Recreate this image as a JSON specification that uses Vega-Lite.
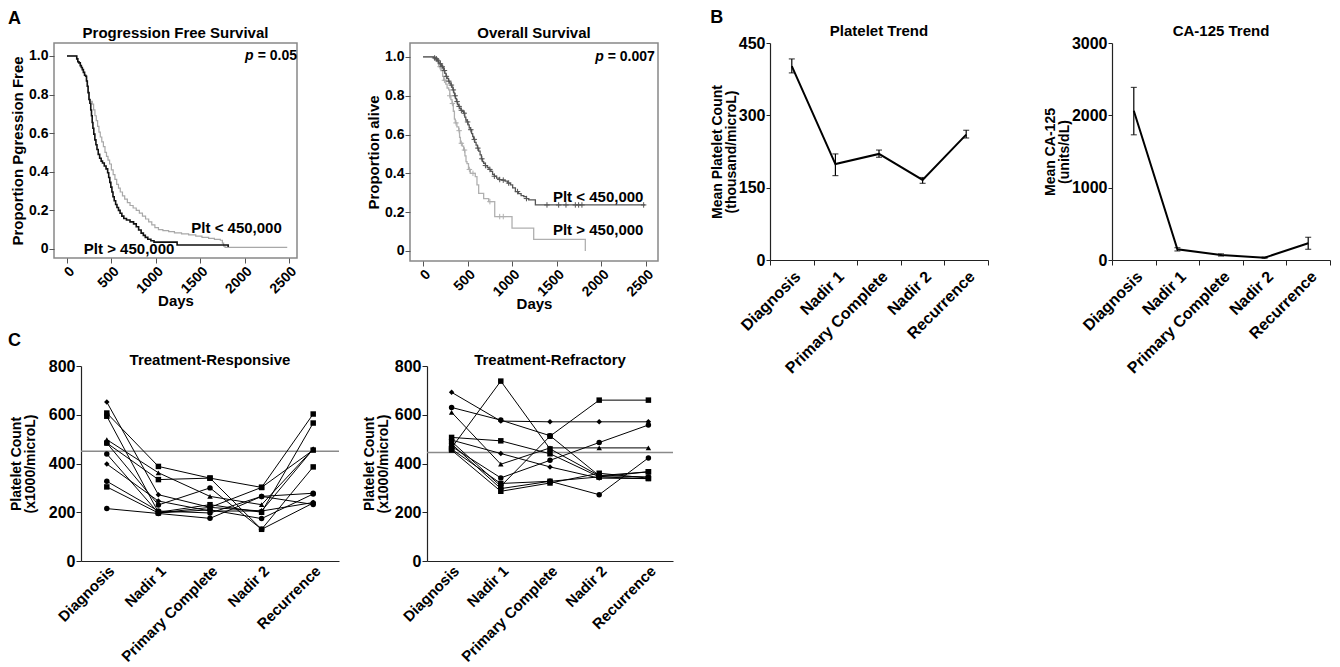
{
 "$schema": "https://vega.github.io/schema/vega-lite/v6.json",
 "padding": {"left": 8, "top": 9, "right": 2, "bottom": 1},
 "background": "white",
 "config": {
  "font": "Liberation Sans",
  "view": {"stroke": null},
  "axis": {"labelFont": "Liberation Sans", "labelFontWeight": "bold", "labelFontSize": 16, "labelColor": "#000", "titleFont": "Liberation Sans", "titleFontWeight": "bold", "titleFontSize": 14, "titleColor": "#000", "domainColor": "#222", "tickColor": "#222", "grid": false, "domainWidth": 1.2, "tickWidth": 1, "titleLineHeight": 14},
  "title": {"font": "Liberation Sans", "fontSize": 15, "fontWeight": "bold", "color": "#000", "offset": 2},
  "text": {"font": "Liberation Sans"}
 },
 "datasets": {
  "pfs_hi": [{"day":0,"surv":1},{"day":100,"surv":1},{"day":110,"surv":0.985},{"day":122,"surv":0.97},{"day":135,"surv":0.964},{"day":150,"surv":0.95},{"day":162,"surv":0.94},{"day":173,"surv":0.929},{"day":185,"surv":0.915},{"day":198,"surv":0.9},{"day":210,"surv":0.895},{"day":220,"surv":0.87},{"day":229,"surv":0.843},{"day":238,"surv":0.81},{"day":248,"surv":0.774},{"day":258,"surv":0.755},{"day":268,"surv":0.72},{"day":276,"surv":0.69},{"day":284,"surv":0.655},{"day":292,"surv":0.625},{"day":302,"surv":0.595},{"day":314,"surv":0.565},{"day":326,"surv":0.54},{"day":338,"surv":0.515},{"day":352,"surv":0.49},{"day":368,"surv":0.47},{"day":385,"surv":0.455},{"day":400,"surv":0.445},{"day":420,"surv":0.43},{"day":440,"surv":0.415},{"day":458,"surv":0.395},{"day":470,"surv":0.37},{"day":482,"surv":0.345},{"day":494,"surv":0.32},{"day":506,"surv":0.295},{"day":518,"surv":0.27},{"day":532,"surv":0.25},{"day":548,"surv":0.23},{"day":563,"surv":0.215},{"day":580,"surv":0.2},{"day":598,"surv":0.185},{"day":618,"surv":0.17},{"day":640,"surv":0.158},{"day":670,"surv":0.15},{"day":710,"surv":0.14},{"day":750,"surv":0.13},{"day":780,"surv":0.115},{"day":807,"surv":0.098},{"day":835,"surv":0.082},{"day":860,"surv":0.07},{"day":882,"surv":0.06},{"day":910,"surv":0.05},{"day":945,"surv":0.042},{"day":980,"surv":0.035},{"day":1240,"surv":0.02},{"day":1815,"surv":0.01}],
  "pfs_lo": [{"day":0,"surv":1},{"day":100,"surv":1},{"day":110,"surv":0.985},{"day":122,"surv":0.97},{"day":135,"surv":0.964},{"day":150,"surv":0.95},{"day":162,"surv":0.94},{"day":173,"surv":0.929},{"day":185,"surv":0.915},{"day":198,"surv":0.9},{"day":210,"surv":0.895},{"day":220,"surv":0.87},{"day":229,"surv":0.843},{"day":238,"surv":0.81},{"day":248,"surv":0.774},{"day":262,"surv":0.765},{"day":285,"surv":0.75},{"day":300,"surv":0.72},{"day":315,"surv":0.69},{"day":330,"surv":0.665},{"day":345,"surv":0.635},{"day":360,"surv":0.605},{"day":375,"surv":0.58},{"day":392,"surv":0.555},{"day":410,"surv":0.53},{"day":428,"surv":0.5},{"day":445,"surv":0.48},{"day":462,"surv":0.46},{"day":480,"surv":0.44},{"day":500,"surv":0.41},{"day":520,"surv":0.385},{"day":540,"surv":0.36},{"day":560,"surv":0.335},{"day":580,"surv":0.315},{"day":600,"surv":0.295},{"day":625,"surv":0.275},{"day":650,"surv":0.258},{"day":680,"surv":0.24},{"day":710,"surv":0.225},{"day":745,"surv":0.212},{"day":780,"surv":0.2},{"day":815,"surv":0.185},{"day":850,"surv":0.17},{"day":885,"surv":0.155},{"day":920,"surv":0.14},{"day":955,"surv":0.125},{"day":990,"surv":0.11},{"day":1030,"surv":0.1},{"day":1080,"surv":0.095},{"day":1145,"surv":0.09},{"day":1210,"surv":0.083},{"day":1290,"surv":0.078},{"day":1370,"surv":0.073},{"day":1450,"surv":0.066},{"day":1520,"surv":0.06},{"day":1595,"surv":0.055},{"day":1660,"surv":0.05},{"day":1727,"surv":0.045},{"day":1750,"surv":0.03},{"day":1764,"surv":0.015},{"day":1780,"surv":0.008},{"day":2480,"surv":0.008}],
  "os_lo": [{"day":0,"surv":1},{"day":100,"surv":1},{"day":120,"surv":0.995},{"day":140,"surv":0.99},{"day":160,"surv":0.98},{"day":176,"surv":0.97},{"day":190,"surv":0.965},{"day":205,"surv":0.955},{"day":220,"surv":0.945},{"day":232,"surv":0.93},{"day":245,"surv":0.915},{"day":258,"surv":0.9},{"day":270,"surv":0.89},{"day":285,"surv":0.875},{"day":300,"surv":0.865},{"day":313,"surv":0.855},{"day":325,"surv":0.845},{"day":335,"surv":0.83},{"day":345,"surv":0.815},{"day":355,"surv":0.8},{"day":365,"surv":0.785},{"day":375,"surv":0.77},{"day":388,"surv":0.755},{"day":400,"surv":0.745},{"day":412,"surv":0.735},{"day":425,"surv":0.725},{"day":440,"surv":0.72},{"day":456,"surv":0.71},{"day":468,"surv":0.69},{"day":480,"surv":0.675},{"day":493,"surv":0.665},{"day":505,"surv":0.65},{"day":518,"surv":0.635},{"day":530,"surv":0.625},{"day":545,"surv":0.605},{"day":557,"surv":0.59},{"day":568,"surv":0.575},{"day":580,"surv":0.56},{"day":595,"surv":0.545},{"day":610,"surv":0.53},{"day":624,"surv":0.515},{"day":640,"surv":0.495},{"day":655,"surv":0.475},{"day":668,"surv":0.46},{"day":680,"surv":0.452},{"day":700,"surv":0.44},{"day":720,"surv":0.43},{"day":740,"surv":0.42},{"day":760,"surv":0.41},{"day":780,"surv":0.395},{"day":800,"surv":0.385},{"day":825,"surv":0.375},{"day":855,"surv":0.368},{"day":885,"surv":0.365},{"day":920,"surv":0.36},{"day":950,"surv":0.35},{"day":980,"surv":0.34},{"day":1005,"surv":0.325},{"day":1036,"surv":0.306},{"day":1070,"surv":0.295},{"day":1100,"surv":0.285},{"day":1130,"surv":0.28},{"day":1160,"surv":0.27},{"day":1185,"surv":0.263},{"day":1260,"surv":0.237},{"day":2490,"surv":0.237}],
  "os_hi": [{"day":0,"surv":1},{"day":120,"surv":1},{"day":150,"surv":0.985},{"day":176,"surv":0.95},{"day":200,"surv":0.93},{"day":220,"surv":0.9},{"day":232,"surv":0.88},{"day":255,"surv":0.86},{"day":270,"surv":0.84},{"day":288,"surv":0.83},{"day":300,"surv":0.8},{"day":312,"surv":0.78},{"day":325,"surv":0.76},{"day":340,"surv":0.72},{"day":352,"surv":0.68},{"day":362,"surv":0.66},{"day":380,"surv":0.64},{"day":400,"surv":0.62},{"day":410,"surv":0.585},{"day":419,"surv":0.555},{"day":440,"surv":0.54},{"day":456,"surv":0.52},{"day":470,"surv":0.49},{"day":482,"surv":0.46},{"day":493,"surv":0.45},{"day":510,"surv":0.42},{"day":530,"surv":0.4},{"day":586,"surv":0.383},{"day":605,"surv":0.34},{"day":624,"surv":0.297},{"day":680,"surv":0.27},{"day":736,"surv":0.254},{"day":804,"surv":0.177},{"day":998,"surv":0.117},{"day":1241,"surv":0.06},{"day":1820,"surv":0}],
  "os_cens_lo": [{"day":130,"surv":0.995},{"day":150,"surv":0.99},{"day":170,"surv":0.98},{"day":195,"surv":0.965},{"day":215,"surv":0.95},{"day":240,"surv":0.93},{"day":262,"surv":0.9},{"day":290,"surv":0.875},{"day":318,"surv":0.855},{"day":340,"surv":0.83},{"day":360,"surv":0.8},{"day":382,"surv":0.77},{"day":405,"surv":0.745},{"day":430,"surv":0.725},{"day":462,"surv":0.71},{"day":500,"surv":0.665},{"day":536,"surv":0.625},{"day":575,"surv":0.575},{"day":615,"surv":0.53},{"day":660,"surv":0.475},{"day":700,"surv":0.44},{"day":750,"surv":0.42},{"day":800,"surv":0.385},{"day":860,"surv":0.368},{"day":900,"surv":0.365},{"day":960,"surv":0.35},{"day":1060,"surv":0.306},{"day":1160,"surv":0.27},{"day":1390,"surv":0.237},{"day":1521,"surv":0.237},{"day":1603,"surv":0.237},{"day":1708,"surv":0.237},{"day":1745,"surv":0.237},{"day":1782,"surv":0.237},{"day":2474,"surv":0.237}],
  "os_cens_hi": [{"day":160,"surv":0.985},{"day":190,"surv":0.95},{"day":240,"surv":0.88},{"day":300,"surv":0.8},{"day":330,"surv":0.76},{"day":370,"surv":0.66},{"day":405,"surv":0.62},{"day":430,"surv":0.555},{"day":465,"surv":0.52},{"day":520,"surv":0.42},{"day":560,"surv":0.4},{"day":750,"surv":0.254},{"day":860,"surv":0.177},{"day":900,"surv":0.177}],
  "plt": [{"stage":"Diagnosis","mean":402,"lo":388,"hi":417},{"stage":"Nadir 1","mean":199,"lo":175,"hi":220},{"stage":"Primary Complete","mean":220,"lo":213,"hi":228},{"stage":"Nadir 2","mean":166,"lo":159,"hi":171},{"stage":"Recurrence","mean":260,"lo":253,"hi":269}],
  "ca": [{"stage":"Diagnosis","mean":2063,"lo":1731,"hi":2386},{"stage":"Nadir 1","mean":148,"lo":125,"hi":170},{"stage":"Primary Complete","mean":69,"lo":55,"hi":85},{"stage":"Nadir 2","mean":32,"lo":25,"hi":40},{"stage":"Recurrence","mean":231,"lo":148,"hi":314}],
  "resp": [
   {"pt":"P1","sym":"diamond","stage":"Diagnosis","count":652},{"pt":"P1","sym":"diamond","stage":"Nadir 1","count":272},{"pt":"P1","sym":"diamond","stage":"Primary Complete","count":220},{"pt":"P1","sym":"diamond","stage":"Nadir 2","count":205},{"pt":"P1","sym":"diamond","stage":"Recurrence","count":459},
   {"pt":"P2","sym":"square","stage":"Diagnosis","count":607},{"pt":"P2","sym":"square","stage":"Nadir 1","count":388},{"pt":"P2","sym":"square","stage":"Primary Complete","count":340},{"pt":"P2","sym":"square","stage":"Nadir 2","count":302},{"pt":"P2","sym":"square","stage":"Recurrence","count":603},
   {"pt":"P3","sym":"square","stage":"Diagnosis","count":594},{"pt":"P3","sym":"square","stage":"Nadir 1","count":200},{"pt":"P3","sym":"square","stage":"Primary Complete","count":231},{"pt":"P3","sym":"square","stage":"Nadir 2","count":200},{"pt":"P3","sym":"square","stage":"Recurrence","count":566},
   {"pt":"P4","sym":"triangle","stage":"Diagnosis","count":498},{"pt":"P4","sym":"triangle","stage":"Nadir 1","count":362},{"pt":"P4","sym":"triangle","stage":"Primary Complete","count":265},{"pt":"P4","sym":"triangle","stage":"Nadir 2","count":231},{"pt":"P4","sym":"triangle","stage":"Recurrence","count":459},
   {"pt":"P5","sym":"circle","stage":"Diagnosis","count":484},{"pt":"P5","sym":"circle","stage":"Nadir 1","count":230},{"pt":"P5","sym":"circle","stage":"Primary Complete","count":300},{"pt":"P5","sym":"circle","stage":"Nadir 2","count":130},{"pt":"P5","sym":"circle","stage":"Recurrence","count":238},
   {"pt":"P6","sym":"square","stage":"Diagnosis","count":484},{"pt":"P6","sym":"square","stage":"Nadir 1","count":334},{"pt":"P6","sym":"square","stage":"Primary Complete","count":340},{"pt":"P6","sym":"square","stage":"Nadir 2","count":130},{"pt":"P6","sym":"square","stage":"Recurrence","count":386},
   {"pt":"P7","sym":"dot","stage":"Diagnosis","count":439},{"pt":"P7","sym":"dot","stage":"Nadir 1","count":197},{"pt":"P7","sym":"dot","stage":"Primary Complete","count":210},{"pt":"P7","sym":"dot","stage":"Nadir 2","count":174},{"pt":"P7","sym":"dot","stage":"Recurrence","count":275},
   {"pt":"P8","sym":"diamond","stage":"Diagnosis","count":398},{"pt":"P8","sym":"diamond","stage":"Nadir 1","count":246},{"pt":"P8","sym":"diamond","stage":"Primary Complete","count":205},{"pt":"P8","sym":"diamond","stage":"Nadir 2","count":205},{"pt":"P8","sym":"diamond","stage":"Recurrence","count":240},
   {"pt":"P9","sym":"circle","stage":"Diagnosis","count":327},{"pt":"P9","sym":"circle","stage":"Nadir 1","count":205},{"pt":"P9","sym":"circle","stage":"Primary Complete","count":197},{"pt":"P9","sym":"circle","stage":"Nadir 2","count":265},{"pt":"P9","sym":"circle","stage":"Recurrence","count":232},
   {"pt":"P10","sym":"square","stage":"Diagnosis","count":304},{"pt":"P10","sym":"square","stage":"Nadir 1","count":197},{"pt":"P10","sym":"square","stage":"Primary Complete","count":220},{"pt":"P10","sym":"square","stage":"Nadir 2","count":302},{"pt":"P10","sym":"square","stage":"Recurrence","count":455},
   {"pt":"P11","sym":"dot","stage":"Diagnosis","count":215},{"pt":"P11","sym":"dot","stage":"Nadir 1","count":195},{"pt":"P11","sym":"dot","stage":"Primary Complete","count":175},{"pt":"P11","sym":"dot","stage":"Nadir 2","count":265},{"pt":"P11","sym":"dot","stage":"Recurrence","count":278}
  ],
  "refr": [
   {"pt":"Q1","sym":"diamond","stage":"Diagnosis","count":692},{"pt":"Q1","sym":"diamond","stage":"Nadir 1","count":574},{"pt":"Q1","sym":"diamond","stage":"Primary Complete","count":571},{"pt":"Q1","sym":"diamond","stage":"Nadir 2","count":571},{"pt":"Q1","sym":"diamond","stage":"Recurrence","count":571},
   {"pt":"Q2","sym":"dot","stage":"Diagnosis","count":630},{"pt":"Q2","sym":"dot","stage":"Nadir 1","count":578},{"pt":"Q2","sym":"dot","stage":"Primary Complete","count":514},{"pt":"Q2","sym":"dot","stage":"Nadir 2","count":350},{"pt":"Q2","sym":"dot","stage":"Recurrence","count":345},
   {"pt":"Q3","sym":"triangle","stage":"Diagnosis","count":610},{"pt":"Q3","sym":"triangle","stage":"Nadir 1","count":397},{"pt":"Q3","sym":"triangle","stage":"Primary Complete","count":464},{"pt":"Q3","sym":"triangle","stage":"Nadir 2","count":464},{"pt":"Q3","sym":"triangle","stage":"Recurrence","count":464},
   {"pt":"Q4","sym":"square","stage":"Diagnosis","count":507},{"pt":"Q4","sym":"square","stage":"Nadir 1","count":493},{"pt":"Q4","sym":"square","stage":"Primary Complete","count":440},{"pt":"Q4","sym":"square","stage":"Nadir 2","count":345},{"pt":"Q4","sym":"square","stage":"Recurrence","count":338},
   {"pt":"Q5","sym":"diamond","stage":"Diagnosis","count":496},{"pt":"Q5","sym":"diamond","stage":"Nadir 1","count":441},{"pt":"Q5","sym":"diamond","stage":"Primary Complete","count":386},{"pt":"Q5","sym":"diamond","stage":"Nadir 2","count":340},{"pt":"Q5","sym":"diamond","stage":"Recurrence","count":338},
   {"pt":"Q6","sym":"square","stage":"Diagnosis","count":464},{"pt":"Q6","sym":"square","stage":"Nadir 1","count":738},{"pt":"Q6","sym":"square","stage":"Primary Complete","count":460},{"pt":"Q6","sym":"square","stage":"Nadir 2","count":350},{"pt":"Q6","sym":"square","stage":"Recurrence","count":366},
   {"pt":"Q7","sym":"square","stage":"Diagnosis","count":459},{"pt":"Q7","sym":"square","stage":"Nadir 1","count":318},{"pt":"Q7","sym":"square","stage":"Primary Complete","count":327},{"pt":"Q7","sym":"square","stage":"Nadir 2","count":345},{"pt":"Q7","sym":"square","stage":"Recurrence","count":366},
   {"pt":"Q8","sym":"square","stage":"Diagnosis","count":490},{"pt":"Q8","sym":"square","stage":"Nadir 1","count":307},{"pt":"Q8","sym":"square","stage":"Primary Complete","count":512},{"pt":"Q8","sym":"square","stage":"Nadir 2","count":660},{"pt":"Q8","sym":"square","stage":"Recurrence","count":660},
   {"pt":"Q9","sym":"circle","stage":"Diagnosis","count":480},{"pt":"Q9","sym":"circle","stage":"Nadir 1","count":297},{"pt":"Q9","sym":"circle","stage":"Primary Complete","count":327},{"pt":"Q9","sym":"circle","stage":"Nadir 2","count":272},{"pt":"Q9","sym":"circle","stage":"Recurrence","count":423},
   {"pt":"Q10","sym":"dot","stage":"Diagnosis","count":470},{"pt":"Q10","sym":"dot","stage":"Nadir 1","count":341},{"pt":"Q10","sym":"dot","stage":"Primary Complete","count":413},{"pt":"Q10","sym":"dot","stage":"Nadir 2","count":486},{"pt":"Q10","sym":"dot","stage":"Recurrence","count":558},
   {"pt":"Q11","sym":"square","stage":"Diagnosis","count":455},{"pt":"Q11","sym":"square","stage":"Nadir 1","count":286},{"pt":"Q11","sym":"square","stage":"Primary Complete","count":320},{"pt":"Q11","sym":"square","stage":"Nadir 2","count":360},{"pt":"Q11","sym":"square","stage":"Recurrence","count":340}
  ],
  "thr_resp": [{"count": 450}],
  "thr_refr": [{"count": 445}],
  "pfs_notes": [{"txt":"Plt < 450,000","day":1400,"surv":0.11,"kind":"n"},{"txt":"Plt > 450,000","day":190,"surv":0.0,"kind":"n"},{"txt":"= 0.05","day":2590,"surv":1.0,"kind":"v"},{"txt":"p","day":2100,"surv":1.0,"kind":"p"}],
  "os_notes": [{"txt":"Plt < 450,000","day":1457,"surv":0.28,"kind":"n"},{"txt":"Plt > 450,000","day":1457,"surv":0.108,"kind":"n"},{"txt":"= 0.007","day":2600,"surv":1.0,"kind":"v"},{"txt":"p","day":2028,"surv":1.0,"kind":"p"}]
 },
 "spacing": 36,
 "hconcat": [
  {"spacing": 19,
   "vconcat": [
    {"title": {"text": "A", "anchor": "start", "fontSize": 18, "offset": -3},
     "spacing": 0,
     "hconcat": [
      {"width": 1, "height": 1, "data": {"values": []}, "mark": "point"},
      {"spacing": 65,
       "hconcat": [
        {"width": 243, "height": 215, "title": "Progression Free Survival",
         "view": {"stroke": "#888", "strokeWidth": 1.5},
         "layer": [
          {"data": {"name": "pfs_lo"}, "mark": {"type": "line", "interpolate": "step-after", "color": "#a8a8a8", "strokeWidth": 1.2},
           "encoding": {
            "x": {"field": "day", "type": "quantitative", "scale": {"domain": [-146, 2590], "nice": false, "zero": false}, "axis": {"title": "Days", "values": [0,500,1000,1500,2000,2500], "format": "d", "labelAngle": -45, "labelFontSize": 14, "titleFontSize": 15, "domain": false, "tickSize": 5, "tickColor": "#555", "labelPadding": 1, "titlePadding": -2}},
            "y": {"field": "surv", "type": "quantitative", "scale": {"domain": [-0.047, 1.067], "nice": false, "zero": false}, "axis": {"title": "Proportion Pgression Free", "values": [0,0.2,0.4,0.6,0.8,1], "labelExpr": "datum.value == 0 ? '0' : format(datum.value, '.1f')", "labelFontSize": 14, "titleFontSize": 15, "domain": false, "tickSize": 5, "tickColor": "#555", "labelPadding": 1, "titlePadding": 3}}}},
          {"data": {"name": "pfs_hi"}, "mark": {"type": "line", "interpolate": "step-after", "color": "#111", "strokeWidth": 1.6},
           "encoding": {"x": {"field": "day", "type": "quantitative"}, "y": {"field": "surv", "type": "quantitative"}}},
          {"data": {"name": "pfs_notes"}, "transform": [{"filter": "datum.kind == 'n'"}], "mark": {"type": "text", "align": "left", "baseline": "middle", "fontSize": 15, "fontWeight": "bold", "color": "#000"},
           "encoding": {"x": {"field": "day", "type": "quantitative"}, "y": {"field": "surv", "type": "quantitative"}, "text": {"field": "txt"}}},
          {"data": {"name": "pfs_notes"}, "transform": [{"filter": "datum.kind == 'v'"}], "mark": {"type": "text", "align": "right", "baseline": "middle", "fontSize": 14, "fontWeight": "bold", "color": "#000"},
           "encoding": {"x": {"field": "day", "type": "quantitative"}, "y": {"field": "surv", "type": "quantitative"}, "text": {"field": "txt"}}},
          {"data": {"name": "pfs_notes"}, "transform": [{"filter": "datum.kind == 'p'"}], "mark": {"type": "text", "align": "right", "baseline": "middle", "fontSize": 14, "fontWeight": "bold", "fontStyle": "italic", "color": "#000"},
           "encoding": {"x": {"field": "day", "type": "quantitative"}, "y": {"field": "surv", "type": "quantitative"}, "text": {"field": "txt"}}}
         ]},
        {"width": 248, "height": 218, "title": "Overall Survival",
         "view": {"stroke": "#888", "strokeWidth": 1.5},
         "layer": [
          {"data": {"name": "os_hi"}, "mark": {"type": "line", "interpolate": "step-after", "color": "#b0b0b0", "strokeWidth": 1.3},
           "encoding": {
            "x": {"field": "day", "type": "quantitative", "scale": {"domain": [-146, 2635], "nice": false, "zero": false}, "axis": {"title": "Days", "values": [0,500,1000,1500,2000,2500], "format": "d", "labelAngle": -45, "labelFontSize": 14, "titleFontSize": 15, "domain": false, "tickSize": 5, "tickColor": "#555", "labelPadding": 1, "titlePadding": -2}},
            "y": {"field": "surv", "type": "quantitative", "scale": {"domain": [-0.052, 1.072], "nice": false, "zero": false}, "axis": {"title": "Proportion alive", "values": [0,0.2,0.4,0.6,0.8,1], "labelExpr": "datum.value == 0 ? '0' : format(datum.value, '.1f')", "labelFontSize": 14, "titleFontSize": 15, "domain": false, "tickSize": 5, "tickColor": "#555", "labelPadding": 1, "titlePadding": 3}}}},
          {"data": {"name": "os_cens_hi"}, "mark": {"type": "point", "shape": "M-1,0L1,0M0,-1L0,1", "size": 30, "filled": false, "color": "#b0b0b0", "strokeWidth": 1, "opacity": 1},
           "encoding": {"x": {"field": "day", "type": "quantitative"}, "y": {"field": "surv", "type": "quantitative"}}},
          {"data": {"name": "os_lo"}, "mark": {"type": "line", "interpolate": "step-after", "color": "#555", "strokeWidth": 1.3},
           "encoding": {"x": {"field": "day", "type": "quantitative"}, "y": {"field": "surv", "type": "quantitative"}}},
          {"data": {"name": "os_cens_lo"}, "mark": {"type": "point", "shape": "M-1,0L1,0M0,-1L0,1", "size": 30, "filled": false, "color": "#555", "strokeWidth": 1, "opacity": 1},
           "encoding": {"x": {"field": "day", "type": "quantitative"}, "y": {"field": "surv", "type": "quantitative"}}},
          {"data": {"name": "os_notes"}, "transform": [{"filter": "datum.kind == 'n'"}], "mark": {"type": "text", "align": "left", "baseline": "middle", "fontSize": 15, "fontWeight": "bold", "color": "#000"},
           "encoding": {"x": {"field": "day", "type": "quantitative"}, "y": {"field": "surv", "type": "quantitative"}, "text": {"field": "txt"}}},
          {"data": {"name": "os_notes"}, "transform": [{"filter": "datum.kind == 'v'"}], "mark": {"type": "text", "align": "right", "baseline": "middle", "fontSize": 14, "fontWeight": "bold", "color": "#000"},
           "encoding": {"x": {"field": "day", "type": "quantitative"}, "y": {"field": "surv", "type": "quantitative"}, "text": {"field": "txt"}}},
          {"data": {"name": "os_notes"}, "transform": [{"filter": "datum.kind == 'p'"}], "mark": {"type": "text", "align": "right", "baseline": "middle", "fontSize": 14, "fontWeight": "bold", "fontStyle": "italic", "color": "#000"},
           "encoding": {"x": {"field": "day", "type": "quantitative"}, "y": {"field": "surv", "type": "quantitative"}, "text": {"field": "txt"}}}
         ]}
       ]}
     ]},
    {"title": {"text": "C", "anchor": "start", "fontSize": 18, "offset": 3},
     "spacing": 0,
     "hconcat": [
      {"width": 1, "height": 1, "data": {"values": []}, "mark": "point"},
      {"spacing": 22,
       "hconcat": [
        {"width": 258, "height": 195, "title": {"text": "Treatment-Responsive", "offset": -10},
         "layer": [
          {"data": {"name": "thr_resp"}, "mark": {"type": "rule", "color": "#8a8a8a", "strokeWidth": 1.5},
           "encoding": {"y": {"field": "count", "type": "quantitative", "scale": {"domain": [0, 800], "nice": false}, "axis": {"title": ["Platelet Count", "(x1000/microL)"], "values": [0,100,200,300,400,500,600,700,800], "labelExpr": "datum.value % 200 === 0 ? datum.label : ''", "tickSize": 5, "labelPadding": 1, "titlePadding": 11}}}},
          {"data": {"name": "resp"}, "mark": {"type": "line", "color": "#000", "strokeWidth": 1},
           "encoding": {
            "x": {"field": "stage", "type": "nominal", "sort": ["Diagnosis","Nadir 1","Primary Complete","Nadir 2","Recurrence"], "bandPosition": 0.5, "scale": {"type": "band", "paddingInner": 0, "paddingOuter": 0}, "axis": {"title": null, "labelAngle": -45, "ticks": false, "labelPadding": 2, "labelFontSize": 15}},
            "y": {"field": "count", "type": "quantitative"},
            "detail": {"field": "pt"}}},
          {"data": {"name": "resp"}, "mark": {"type": "point", "filled": true, "color": "#000", "opacity": 1},
           "encoding": {
            "x": {"field": "stage", "type": "nominal", "sort": ["Diagnosis","Nadir 1","Primary Complete","Nadir 2","Recurrence"], "bandPosition": 0.5},
            "y": {"field": "count", "type": "quantitative"},
            "shape": {"field": "sym", "type": "nominal", "scale": {"domain": ["square","circle","triangle","diamond","dot"], "range": ["square","circle","triangle-up","diamond","circle"]}, "legend": null},
            "size": {"field": "sym", "type": "nominal", "scale": {"domain": ["square","circle","triangle","diamond","dot"], "range": [30,30,28,30,6]}, "legend": null}}}
         ]},
        {"width": 246, "height": 195, "title": {"text": "Treatment-Refractory", "offset": -10},
         "layer": [
          {"data": {"name": "thr_refr"}, "mark": {"type": "rule", "color": "#8a8a8a", "strokeWidth": 1.5},
           "encoding": {"y": {"field": "count", "type": "quantitative", "scale": {"domain": [0, 800], "nice": false}, "axis": {"title": ["Platelet Count", "(x1000/microL)"], "values": [0,100,200,300,400,500,600,700,800], "labelExpr": "datum.value % 200 === 0 ? datum.label : ''", "tickSize": 5, "labelPadding": 1, "titlePadding": 4}}}},
          {"data": {"name": "refr"}, "mark": {"type": "line", "color": "#000", "strokeWidth": 1},
           "encoding": {
            "x": {"field": "stage", "type": "nominal", "sort": ["Diagnosis","Nadir 1","Primary Complete","Nadir 2","Recurrence"], "bandPosition": 0.5, "scale": {"type": "band", "paddingInner": 0, "paddingOuter": 0}, "axis": {"title": null, "labelAngle": -45, "ticks": false, "labelPadding": 2, "labelFontSize": 15}},
            "y": {"field": "count", "type": "quantitative"},
            "detail": {"field": "pt"}}},
          {"data": {"name": "refr"}, "mark": {"type": "point", "filled": true, "color": "#000", "opacity": 1},
           "encoding": {
            "x": {"field": "stage", "type": "nominal", "sort": ["Diagnosis","Nadir 1","Primary Complete","Nadir 2","Recurrence"], "bandPosition": 0.5},
            "y": {"field": "count", "type": "quantitative"},
            "shape": {"field": "sym", "type": "nominal", "scale": {"domain": ["square","circle","triangle","diamond","dot"], "range": ["square","circle","triangle-up","diamond","circle"]}, "legend": null},
            "size": {"field": "sym", "type": "nominal", "scale": {"domain": ["square","circle","triangle","diamond","dot"], "range": [30,30,28,30,6]}, "legend": null}}}
         ]}
       ]}
     ]}
   ]},
  {"title": {"text": "B", "anchor": "start", "fontSize": 18, "offset": -3},
   "spacing": 54,
   "hconcat": [
    {"width": 218, "height": 217, "title": {"text": "Platelet Trend", "offset": -4}, "data": {"name": "plt"},
     "layer": [
      {"mark": {"type": "line", "color": "#000", "strokeWidth": 2},
       "encoding": {
        "x": {"field": "stage", "type": "nominal", "sort": ["Diagnosis","Nadir 1","Primary Complete","Nadir 2","Recurrence"], "bandPosition": 0.5, "scale": {"type": "band", "paddingInner": 0, "paddingOuter": 0}, "axis": {"title": null, "labelAngle": -45, "tickBand": "extent", "tickSize": 5, "labelPadding": 3}},
        "y": {"field": "mean", "type": "quantitative", "scale": {"domain": [0, 450], "nice": false}, "axis": {"title": ["Mean Platelet Count", "(thousand/microL)"], "values": [0,150,300,450], "tickSize": 4, "labelPadding": 1, "titlePadding": 0}}}},
      {"mark": {"type": "rule", "color": "#000", "strokeWidth": 1.2},
       "encoding": {"x": {"field": "stage", "type": "nominal", "sort": ["Diagnosis","Nadir 1","Primary Complete","Nadir 2","Recurrence"], "bandPosition": 0.5}, "y": {"field": "lo", "type": "quantitative", "axis": {"title": ["Mean Platelet Count", "(thousand/microL)"]}}, "y2": {"field": "hi"}}},
      {"mark": {"type": "tick", "color": "#000", "size": 6, "thickness": 1.2},
       "encoding": {"x": {"field": "stage", "type": "nominal", "sort": ["Diagnosis","Nadir 1","Primary Complete","Nadir 2","Recurrence"]}, "y": {"field": "lo", "type": "quantitative", "axis": {"title": ["Mean Platelet Count", "(thousand/microL)"]}}}},
      {"mark": {"type": "tick", "color": "#000", "size": 6, "thickness": 1.2},
       "encoding": {"x": {"field": "stage", "type": "nominal", "sort": ["Diagnosis","Nadir 1","Primary Complete","Nadir 2","Recurrence"]}, "y": {"field": "hi", "type": "quantitative", "axis": {"title": ["Mean Platelet Count", "(thousand/microL)"]}}}}
     ]},
    {"width": 218, "height": 217, "title": {"text": "CA-125 Trend", "offset": -4}, "data": {"name": "ca"},
     "layer": [
      {"mark": {"type": "line", "color": "#000", "strokeWidth": 2},
       "encoding": {
        "x": {"field": "stage", "type": "nominal", "sort": ["Diagnosis","Nadir 1","Primary Complete","Nadir 2","Recurrence"], "bandPosition": 0.5, "scale": {"type": "band", "paddingInner": 0, "paddingOuter": 0}, "axis": {"title": null, "labelAngle": -45, "tickBand": "extent", "tickSize": 5, "labelPadding": 3}},
        "y": {"field": "mean", "type": "quantitative", "scale": {"domain": [0, 3000], "nice": false}, "axis": {"title": ["Mean CA-125", "(units/dL)"], "values": [0,1000,2000,3000], "format": "d", "tickSize": 4, "labelPadding": 1, "titlePadding": 0}}}},
      {"mark": {"type": "rule", "color": "#000", "strokeWidth": 1.2},
       "encoding": {"x": {"field": "stage", "type": "nominal", "sort": ["Diagnosis","Nadir 1","Primary Complete","Nadir 2","Recurrence"], "bandPosition": 0.5}, "y": {"field": "lo", "type": "quantitative", "axis": {"title": ["Mean CA-125", "(units/dL)"]}}, "y2": {"field": "hi"}}},
      {"mark": {"type": "tick", "color": "#000", "size": 6, "thickness": 1.2},
       "encoding": {"x": {"field": "stage", "type": "nominal", "sort": ["Diagnosis","Nadir 1","Primary Complete","Nadir 2","Recurrence"]}, "y": {"field": "lo", "type": "quantitative", "axis": {"title": ["Mean CA-125", "(units/dL)"]}}}},
      {"mark": {"type": "tick", "color": "#000", "size": 6, "thickness": 1.2},
       "encoding": {"x": {"field": "stage", "type": "nominal", "sort": ["Diagnosis","Nadir 1","Primary Complete","Nadir 2","Recurrence"]}, "y": {"field": "hi", "type": "quantitative", "axis": {"title": ["Mean CA-125", "(units/dL)"]}}}}
     ]}
   ]}
 ]
}
